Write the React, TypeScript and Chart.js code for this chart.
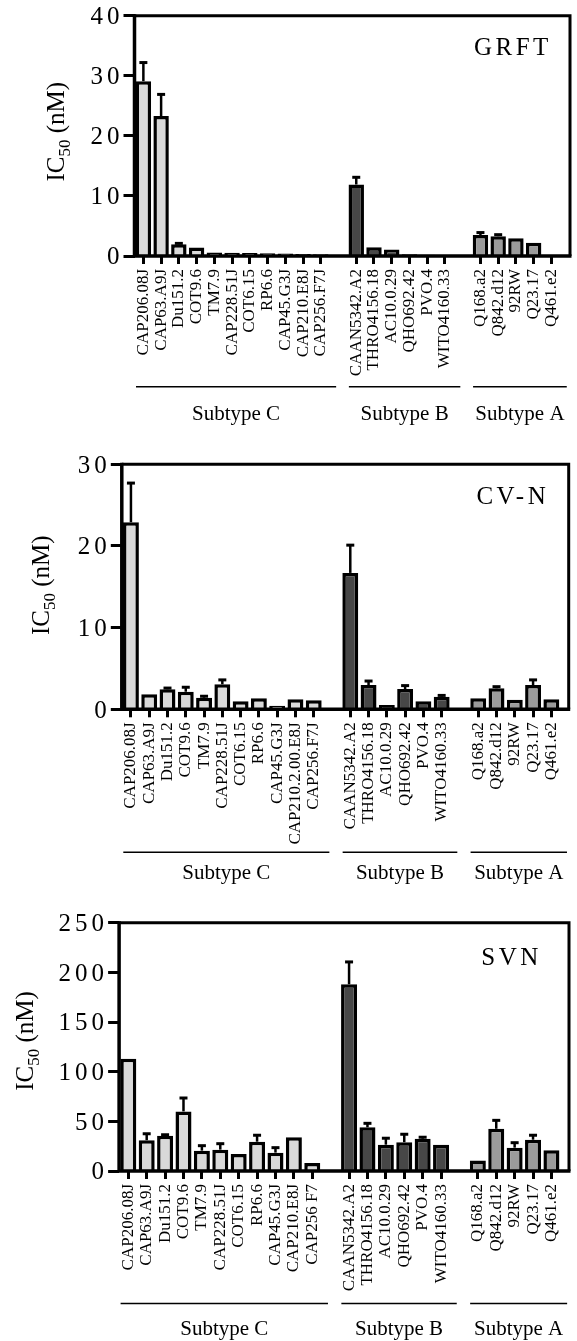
import React, { useEffect, useRef } from 'react';
import { Chart, registerables } from 'chart.js';

Chart.register(...registerables);

const SERIF = '"Liberation Serif", "Times New Roman", Times, serif';

// ---------- categories ----------
const labelsC_GRFT = ['CAP206.08J', 'CAP63.A9J', 'Du151.2', 'COT9.6', 'TM7.9', 'CAP228.51J', 'COT6.15', 'RP6.6', 'CAP45.G3J', 'CAP210.E8J', 'CAP256.F7J'];
const labelsC_CVN = ['CAP206.08J', 'CAP63.A9J', 'Du151.2', 'COT9.6', 'TM7.9', 'CAP228.51J', 'COT6.15', 'RP6.6', 'CAP45.G3J', 'CAP210.2.00.E8J', 'CAP256.F7J'];
const labelsC_SVN = ['CAP206.08J', 'CAP63.A9J', 'Du151.2', 'COT9.6', 'TM7.9', 'CAP228.51J', 'COT6.15', 'RP6.6', 'CAP45.G3J', 'CAP210.E8J', 'CAP256 F7'];
const labelsB = ['CAAN5342.A2', 'THRO4156.18', 'AC10.0.29', 'QHO692.42', 'PVO.4', 'WITO4160.33'];
const labelsA = ['Q168.a2', 'Q842.d12', '92RW', 'Q23.17', 'Q461.e2'];
const groupNames = ['Subtype C', 'Subtype B', 'Subtype A'];

// ---------- GRFT (mean, mean+SD) ----------
const grftC = [29.1, 23.3, 1.95, 1.4, 0.6, 0.55, 0.5, 0.45, 0.4, 0.35, 0.3];
const grftCErr = [32.2, 26.9, 2.1, null, null, null, null, null, null, null, null];
const grftB = [11.9, 1.45, 1.1, 0.3, 0.2, 0.15];
const grftBErr = [13.1, null, null, null, null, null];
const grftA = [3.5, 3.3, 2.95, 2.2, 0.05];
const grftAErr = [3.9, 3.55, null, null, null];

// ---------- CV-N ----------
const cvnC = [22.9, 1.84, 2.45, 2.15, 1.42, 3.06, 1.0, 1.35, 0.44, 1.22, 1.1];
const cvnCErr = [27.7, null, 2.6, 2.7, 1.6, 3.6, null, null, null, null, null];
const cvnB = [16.7, 2.97, 0.53, 2.48, 1.0, 1.54];
const cvnBErr = [20.1, 3.46, null, 2.9, null, 1.7];
const cvnA = [1.35, 2.57, 1.18, 2.97, 1.22];
const cvnAErr = [null, 2.77, null, 3.6, null];

// ---------- SVN ----------
const svnC = [113, 31, 35.5, 60, 20.5, 21.5, 17, 29.5, 18.5, 34, 8];
const svnCErr = [null, 37.5, 36.5, 73.5, 25.5, 27.5, null, 36, 23.5, null, null];
const svnB = [188, 44, 26.5, 29, 32.5, 26.5];
const svnBErr = [210.5, 48, 33, 37, 34, null];
const svnA = [10.5, 42.5, 23.5, 31.5, 21];
const svnAErr = [null, 51, 28.5, 36, null];

// y axis ticks
const yMaxes = [40, 30, 250];
const ySteps = [10, 10, 50];
const titles = ['GRFT', 'CV-N', 'SVN'];

const COLORS = ['#d9d9d9', '#474747', '#9b9b9b'];

type PanelLayout = {
  top: number; height: number; left: number; right: number; plotTop: number; plotBottom: number;
  borderRight: number; titleRight: number; titleBase: number; yTitleX: number; yTitleY: number;
  lineY: number; groupBase: number;
};

const layouts: PanelLayout[] = [
  { top: 0, height: 440, left: 134.5, right: 567.3, plotTop: 15.7, plotBottom: 256, borderRight: 570, titleRight: 548.3, titleBase: 55, yTitleX: 64, yTitleY: 131.7, lineY: 386.7, groupBase: 420 },
  { top: 440, height: 460, left: 121.8, right: 565, plotTop: 24.3, plotBottom: 269.3, borderRight: 568.7, titleRight: 545.7, titleBase: 64.3, yTitleX: 49, yTitleY: 145.3, lineY: 412.3, groupBase: 438.7 },
  { top: 900, height: 441, left: 119.1, right: 569, plotTop: 22.7, plotBottom: 271, borderRight: 569, titleRight: 538.3, titleBase: 65, yTitleX: 33, yTitleY: 141, lineY: 403.5, groupBase: 435 },
];

function buildPanel(lc: string[], vc: number[], ec: (number | null)[], vb: number[], eb: (number | null)[], va: number[], ea: (number | null)[]) {
  const labels = [...lc, '', ...labelsB, '', ...labelsA];
  const values = [...vc, null, ...vb, null, ...va];
  const errs = [...ec, null, ...eb, null, ...ea];
  const colors = [...lc.map(() => COLORS[0]), COLORS[0], ...labelsB.map(() => COLORS[1]), COLORS[1], ...labelsA.map(() => COLORS[2])];
  const groups = [
    [0, lc.length - 1],
    [lc.length + 1, lc.length + labelsB.length],
    [lc.length + labelsB.length + 2, labels.length - 1],
  ];
  return { labels, values, errs, colors, groups };
}

const panels = [
  buildPanel(labelsC_GRFT, grftC, grftCErr, grftB, grftBErr, grftA, grftAErr),
  buildPanel(labelsC_CVN, cvnC, cvnCErr, cvnB, cvnBErr, cvnA, cvnAErr),
  buildPanel(labelsC_SVN, svnC, svnCErr, svnB, svnBErr, svnA, svnAErr),
];

function Panel({ idx }: { idx: number }) {
  const ref = useRef<HTMLCanvasElement | null>(null);
  const L = layouts[idx];
  useEffect(() => {
    const p = panels[idx];
    const W = 577;
    const deco = {
      id: 'deco' + idx,
      afterDatasetsDraw(chart: any) {
        const ctx = chart.ctx;
        const ys = chart.scales.y;
        const meta = chart.getDatasetMeta(0);
        ctx.save();
        ctx.strokeStyle = '#000';
        p.errs.forEach((e: number | null, i: number) => {
          const v = p.values[i];
          if (e == null || v == null) return;
          const x = meta.data[i].x;
          const y0 = ys.getPixelForValue(v);
          const y1 = ys.getPixelForValue(e);
          ctx.lineWidth = 2.5;
          ctx.beginPath();
          ctx.moveTo(x, y0);
          ctx.lineTo(x, y1);
          ctx.stroke();
          ctx.lineWidth = 3;
          ctx.beginPath();
          ctx.moveTo(x - 4, y1);
          ctx.lineTo(x + 4, y1);
          ctx.stroke();
        });
        ctx.restore();
      },
      afterDraw(chart: any) {
        const ctx = chart.ctx;
        const a = chart.chartArea;
        const ys = chart.scales.y;
        const xs = chart.scales.x;
        ctx.save();
        // frame
        ctx.strokeStyle = '#000';
        ctx.lineWidth = 3;
        ctx.beginPath();
        ctx.moveTo(a.left, a.top);
        ctx.lineTo(L.borderRight, a.top);
        ctx.lineTo(L.borderRight, a.bottom);
        ctx.stroke();
        ctx.lineWidth = 3.5;
        ctx.beginPath();
        ctx.moveTo(a.left, a.top - 1.5);
        ctx.lineTo(a.left, a.bottom);
        ctx.lineTo(L.borderRight + 1.5, a.bottom);
        ctx.stroke();
        // y tick labels
        ctx.fillStyle = '#000';
        ctx.font = `25px ${SERIF}`;
        (ctx as any).letterSpacing = '4px';
        ctx.textAlign = 'right';
        ctx.textBaseline = 'alphabetic';
        ys.ticks.forEach((t: any) => {
          const py = ys.getPixelForValue(t.value);
          ctx.fillText(String(t.value), a.left - 15 + 4, py + 8.4);
        });
        // panel title
        (ctx as any).letterSpacing = '3.5px';
        ctx.fillText(titles[idx], L.titleRight + 3.5, L.titleBase);
        (ctx as any).letterSpacing = '0px';
        // y axis title IC50 (nM)
        ctx.save();
        ctx.translate(L.yTitleX, L.yTitleY);
        ctx.rotate(-Math.PI / 2);
        ctx.textAlign = 'left';
        const big = `25px ${SERIF}`;
        const small = `17px ${SERIF}`;
        ctx.font = big;
        const w1 = ctx.measureText('IC').width;
        const w3 = ctx.measureText(' (nM)').width;
        ctx.font = small;
        const w2 = ctx.measureText('50').width;
        const total = w1 + w2 + w3;
        let x0 = -total / 2;
        ctx.font = big;
        ctx.fillText('IC', x0, 0);
        x0 += w1;
        ctx.font = small;
        ctx.fillText('50', x0, 6);
        x0 += w2;
        ctx.font = big;
        ctx.fillText(' (nM)', x0, 0);
        ctx.restore();
        // group lines and labels
        const slot = (xs.getPixelForValue(1) - xs.getPixelForValue(0));
        ctx.lineWidth = 1.5;
        ctx.font = `21px ${SERIF}`;
        ctx.textAlign = 'center';
        p.groups.forEach((g: number[], gi: number) => {
          const x1 = xs.getPixelForValue(g[0]) - slot / 2 + 1.5;
          const x2 = xs.getPixelForValue(g[1]) + slot / 2 + 6.5;
          ctx.beginPath();
          ctx.moveTo(x1, L.lineY);
          ctx.lineTo(x2, L.lineY);
          ctx.stroke();
          ctx.fillText(groupNames[gi], (x1 + x2) / 2, L.groupBase);
        });
        ctx.restore();
      },
    };
    const chart = new Chart(ref.current as HTMLCanvasElement, {
      type: 'bar',
      data: {
        labels: p.labels,
        datasets: [{
          data: p.values as any,
          backgroundColor: p.colors,
          borderColor: '#000',
          borderWidth: 3.5,
          borderSkipped: 'start',
          barPercentage: 0.87,
          categoryPercentage: 1,
        }],
      },
      options: {
        animation: false,
        responsive: false,
        maintainAspectRatio: false,
        layout: { padding: { left: 0, right: W - L.right, top: L.plotTop, bottom: 0 } },
        plugins: { legend: { display: false }, tooltip: { enabled: false }, title: { display: false } },
        scales: {
          x: {
            type: 'category',
            offset: true,
            border: { display: false },
            grid: {
              display: true,
              drawOnChartArea: false,
              offset: false,
              drawTicks: true,
              tickLength: 8,
              tickWidth: 3,
              tickColor: (c: any) => (p.labels[c.index] ? '#000' : 'rgba(0,0,0,0)'),
            },
            ticks: {
              autoSkip: false,
              minRotation: 90,
              maxRotation: 90,
              padding: 5,
              color: '#000',
              font: { family: SERIF, size: 17 },
            },
            afterFit: (s: any) => { s.height = L.height - L.plotBottom; },
          },
          y: {
            min: 0,
            max: yMaxes[idx],
            border: { display: false },
            grid: { drawOnChartArea: false, drawTicks: true, tickLength: 11, tickWidth: 3, tickColor: '#000' },
            ticks: { stepSize: ySteps[idx], display: false },
            afterFit: (s: any) => { s.width = L.left; },
          },
        },
      },
      plugins: [deco],
    } as any);
    return () => chart.destroy();
  }, [idx]);
  return (
    <canvas
      ref={ref}
      width={577}
      height={L.height}
      style={{ position: 'absolute', left: 0, top: L.top, width: 577, height: L.height, display: 'block' }}
    />
  );
}

export default function App() {
  useEffect(() => {
    document.body.style.margin = '0';
    document.body.style.background = '#fff';
  }, []);
  return (
    <div style={{ position: 'relative', width: 577, height: 1341, background: '#fff', overflow: 'hidden' }}>
      <Panel idx={0} />
      <Panel idx={1} />
      <Panel idx={2} />
    </div>
  );
}
